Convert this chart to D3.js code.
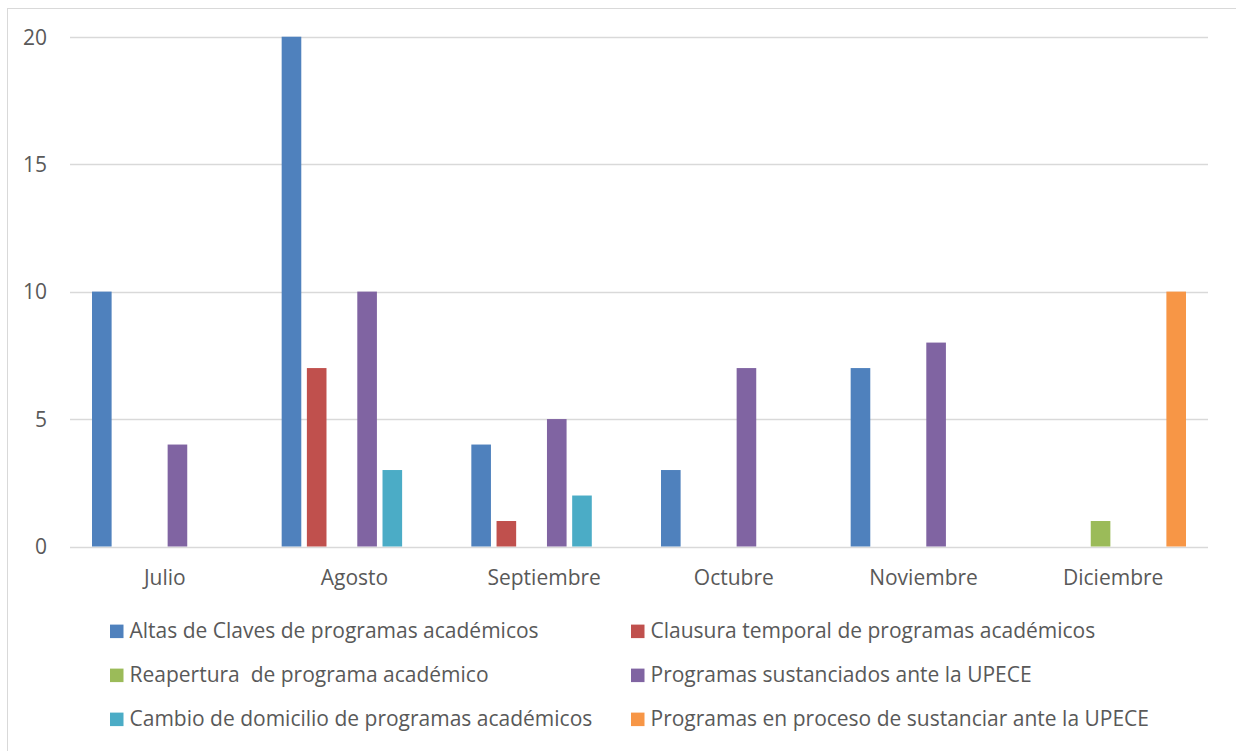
<!DOCTYPE html>
<html><head><meta charset="utf-8">
<script src="https://cdn.jsdelivr.net/npm/d3@7"></script>
<style>body{margin:0;background:#fff;} text{font-family:"Open Sans",Lato,sans-serif;fill:#595959;}</style>
</head><body>
<svg id="c" width="1236" height="751"></svg>
<script>
const months = ["Julio","Agosto","Septiembre","Octubre","Noviembre","Diciembre"];
const seriesNames = ["Altas de Claves de programas académicos","Clausura temporal de programas académicos","Reapertura  de programa académico","Programas sustanciados ante la UPECE","Cambio de domicilio de programas académicos","Programas en proceso de sustanciar ante la UPECE"];
const altas      = [10,20,4,3,7,0];
const clausura   = [0,7,1,0,0,0];
const reapertura = [0,0,0,0,0,1];
const sustanciados = [4,10,5,7,8,0];
const cambio     = [0,3,2,0,0,0];
const proceso    = [0,0,0,0,0,10];
const yTicks = [0,5,10,15,20];
const colors = ["#4F81BD","#C0504D","#9BBB59","#8064A2","#4BACC6","#F79646"];
const seriesValues = [altas,clausura,reapertura,sustanciados,cambio,proceso];

const FS = "21px";
const svg = d3.select("#c");
svg.append("rect").attr("x",7.5).attr("y",8.5).attr("width",1240).attr("height",760)
  .attr("fill","none").attr("stroke","#D9D9D9").attr("stroke-width",1);

const x0 = d3.scaleBand().domain(months).range([70,1208]).paddingInner(0).paddingOuter(0);
const x1 = d3.scaleBand().domain(d3.range(6)).range([22, x0.bandwidth()-22]).paddingInner(0.222).paddingOuter(0);
const y = d3.scaleLinear().domain([0,20]).range([546.5,36.7]);

svg.append("g").selectAll("line").data(yTicks).join("line")
  .attr("x1",70).attr("x2",1208).attr("y1",d=>Math.round(y(d))+0.5).attr("y2",d=>Math.round(y(d))+0.5)
  .attr("stroke","#D9D9D9").attr("stroke-width",1.3);

const yAxis = d3.axisLeft(y).tickValues(yTicks).tickSize(0).tickPadding(0);
const ya = svg.append("g").attr("transform","translate(47,0)").call(yAxis);
ya.select(".domain").remove();
ya.selectAll("text").style("font-size",FS).style("font-family","'Open Sans'").attr("dy","0.35em").attr("fill","#595959");

const g = svg.append("g");
months.forEach((m,i)=>{
  seriesValues.forEach((vals,s)=>{
    if(vals[i]>0){
      g.append("rect").attr("x",x0(m)+x1(s)).attr("width",x1.bandwidth())
        .attr("y",y(vals[i])).attr("height",y(0)-y(vals[i])).attr("fill",colors[s]);
    }
  });
});

const xAxis = d3.axisBottom(x0).tickSize(0).tickPadding(0);
const xa = svg.append("g").attr("transform","translate(0,570)").call(xAxis);
xa.select(".domain").remove();
xa.selectAll("text").style("font-size",FS).style("font-family","'Open Sans'").attr("dy","0.72em").attr("fill","#595959");

const legX = [110,631];
const legY = [631.3,675.3,719.3];
seriesNames.forEach((n,i)=>{
  const col = i%2, row = Math.floor(i/2);
  const lg = svg.append("g").attr("transform",`translate(${legX[col]},${legY[row]})`);
  lg.append("rect").attr("x",0).attr("y",-6.7).attr("width",13.5).attr("height",13.5).attr("fill",colors[i]);
  lg.append("text").attr("x",19.5).attr("y",0).attr("dy","0.33em").style("font-size",FS).style("white-space","pre").text(n);
});
</script>
</body></html>
